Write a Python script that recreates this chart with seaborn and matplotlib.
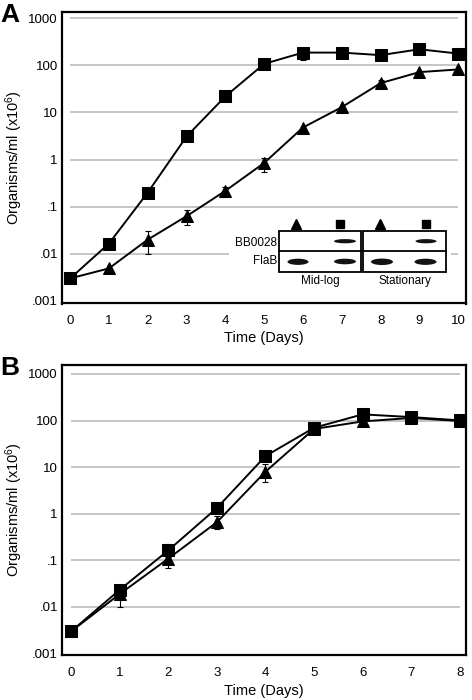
import numpy as np
import pandas as pd
import matplotlib
matplotlib.use("Agg")
import matplotlib.pyplot as plt
import seaborn as sns
from matplotlib.patches import Rectangle, Ellipse
from matplotlib.ticker import NullLocator

# panel A growth curves
days_a = [0, 1, 2, 3, 4, 5, 6, 7, 8, 9, 10]
sq_a = [0.003, 0.0165, 0.2, 3.1, 22, 108, 187, 187, 165, 220, 178]
tri_a = [0.003, 0.0049, 0.02, 0.063, 0.217, 0.85, 4.8, 13, 42, 72, 82]
sq_a_err_days = [6]
sq_a_lo = [129]
sq_a_hi = [221]
tri_a_err_days = [2, 3, 4, 5, 8]
tri_a_lo = [0.0099, 0.041, 0.19, 0.557, 36]
tri_a_hi = [0.03, 0.087, 0.264, 1.1, 50]

# panel B growth curves
days_b = [0, 1, 2, 3, 4, 5, 6, 7, 8]
sq_b = [0.003, 0.0234, 0.164, 1.33, 17.3, 70, 136, 119, 101]
tri_b = [0.003, 0.019, 0.109, 0.66, 8.0, 66, 96, 114, 98]
sq_b_err_days = [1, 2, 7]
sq_b_lo = [0.02, 0.12, 95]
sq_b_hi = [0.027, 0.22, 130]
tri_b_err_days = [1, 2, 3, 4, 5, 7]
tri_b_lo = [0.0099, 0.070, 0.46, 4.8, 51, 89]
tri_b_hi = [0.028, 0.15, 0.9, 11.7, 80, 135]

yticks = [0.001, 0.01, 0.1, 1, 10, 100, 1000]
ytick_labels = [".001", ".01", ".1", "1", "10", "100", "1000"]

sns.set_theme(style="white", rc={"text.color": "black", "axes.labelcolor": "black",
                                 "xtick.color": "black", "ytick.color": "black"})
plt.rcParams["font.family"] = ["Liberation Sans", "DejaVu Sans"]
plt.rcParams["mathtext.fontset"] = "custom"
plt.rcParams["mathtext.rm"] = "Liberation Sans"
plt.rcParams["mathtext.default"] = "regular"

W, H = 472, 700
fig = plt.figure(figsize=(W / 100, H / 100), dpi=100)


def px_axes(x0, y0, x1, y1):
    return fig.add_axes([x0 / W, 1 - y1 / H, (x1 - x0) / W, (y1 - y0) / H])


def panel(ax, days, sq, tri, sq_err, tri_err, xlim, ylim, xpad):
    ax.set_yscale("log")
    ax.hlines(yticks[1:], 0, max(days), color="#b5b5b5", lw=1.1, zorder=0)
    for d, lo, hi, vals in [tri_err + (tri,), sq_err + (sq,)]:
        y = np.array([vals[days.index(k)] for k in d])
        ax.errorbar(d, y, yerr=[y - np.array(lo), np.array(hi) - y], fmt="none",
                    ecolor="black", elinewidth=0.8, capsize=2, capthick=0.8, zorder=2)
    sns.lineplot(x=days, y=tri, ax=ax, color="black", marker="^", markersize=9,
                 markeredgecolor="black", linewidth=1.4, zorder=3)
    sns.lineplot(x=days, y=sq, ax=ax, color="black", marker="s", markersize=8.5,
                 markeredgecolor="black", linewidth=1.4, zorder=4)
    ax.set_xlim(*xlim)
    ax.set_ylim(*ylim)
    ax.set_xticks(days)
    ax.set_yticks(yticks)
    ax.set_yticklabels(ytick_labels)
    ax.yaxis.set_minor_locator(NullLocator())
    ax.tick_params(direction="in", length=3, color="#999999", labelsize=9.5,
                   labelcolor="black")
    ax.tick_params(axis="x", pad=xpad)
    ax.tick_params(axis="y", pad=3)
    for s in ax.spines.values():
        s.set_linewidth(1.6)
        s.set_color("black")
    ax.set_xlabel("Time (Days)", fontsize=10.5, labelpad=3)
    ax.set_ylabel("Organisms/ml (x10$^{6}$)", fontsize=10.5, labelpad=2)


ax_a = px_axes(62, 12, 466, 303.5)
panel(ax_a, days_a, sq_a, tri_a, (sq_a_err_days, sq_a_lo, sq_a_hi),
      (tri_a_err_days, tri_a_lo, tri_a_hi), (-0.21, 10.2), (0.00088, 1360), 8)

ax_b = px_axes(62, 365, 466, 655)
panel(ax_b, days_b, sq_b, tri_b, (sq_b_err_days, sq_b_lo, sq_b_hi),
      (tri_b_err_days, tri_b_lo, tri_b_hi), (-0.19, 8.13), (0.00093, 1560), 9)

fig.text(0, 1 - 3 / H, "A", fontsize=19, fontweight="heavy", va="top", ha="left",
         color="black")
fig.text(0, 1 - 356 / H, "B", fontsize=19, fontweight="heavy", va="top", ha="left",
         color="black")

# western blot inset
ins = px_axes(229, 213, 451, 292)
ins.set_zorder(5)
ins.set_facecolor("white")
ins.set_xlim(229, 451)
ins.set_ylim(292, 213)
ins.set_xticks([])
ins.set_yticks([])
for s in ins.spines.values():
    s.set_visible(False)

for x0, x1 in [(279.3, 360.7), (363.3, 446)]:
    ins.add_patch(Rectangle((x0, 230.7), x1 - x0, 41.6, fill=False, lw=1.3, ec="black"))
    ins.plot([x0, x1], [251, 251], color="black", lw=1.3)
bands = [(298, 261.8, 21, 6.2), (345, 261.5, 22, 5.6), (382, 261.8, 22, 6.5),
         (425.5, 261.8, 22, 6.2), (345, 241.2, 22, 4.2), (426, 241.2, 21, 4.2)]
for bx, by, bw, bh in bands:
    ins.add_patch(Ellipse((bx, by), bw, bh, color="#121212", lw=0))
ins.plot([296, 380], [224, 224], ls="none", marker="^", color="black", markersize=7.5)
ins.plot([340, 426], [224, 224], ls="none", marker="s", color="black", markersize=6)
ins.text(277, 242.5, "BB0028", ha="right", va="center", fontsize=8.5)
ins.text(277, 261.5, "FlaB", ha="right", va="center", fontsize=8.5)
ins.text(320, 281, "Mid-log", ha="center", va="center", fontsize=8.5)
ins.text(405, 281, "Stationary", ha="center", va="center", fontsize=8.5)

fig.savefig("out.png", dpi=100)
